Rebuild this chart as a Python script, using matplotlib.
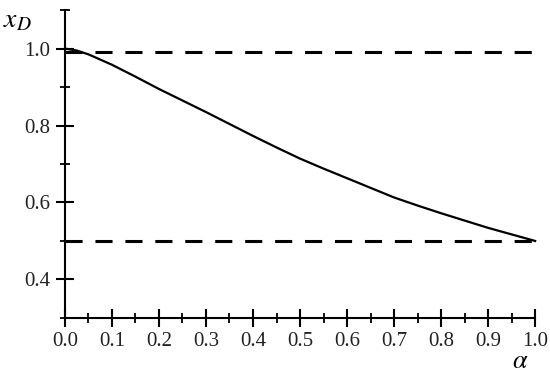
import numpy as np
import matplotlib.pyplot as plt
from matplotlib.ticker import MultipleLocator

# values
alpha = [0.0, 0.025, 0.05, 0.1, 0.15, 0.2, 0.25, 0.3, 0.35, 0.4, 0.45, 0.5,
         0.55, 0.6, 0.65, 0.7, 0.75, 0.8, 0.85, 0.9, 0.95, 1.0]
x_d = [1.0, 0.995, 0.985, 0.958, 0.927, 0.895, 0.865, 0.835, 0.804, 0.773, 0.743, 0.714,
       0.688, 0.663, 0.638, 0.613, 0.592, 0.572, 0.553, 0.534, 0.517, 0.5]
upper_level = 0.99
lower_level = 0.5
x_ticks = [0.0, 0.1, 0.2, 0.3, 0.4, 0.5, 0.6, 0.7, 0.8, 0.9, 1.0]
y_ticks = [0.4, 0.6, 0.8, 1.0]

plt.rcParams['mathtext.fontset'] = 'stix'
plt.rcParams['font.family'] = ['Liberation Serif', 'DejaVu Serif']

fig = plt.figure(figsize=(5.5, 3.74), dpi=100)
ax = fig.add_axes([0.118, 0.150, 0.855, 0.823])

dash = dict(color='black', lw=2.2, dashes=(5.6, 4.2), clip_on=False)
ax.plot([0, 1], [upper_level, upper_level], **dash)
ax.plot([0, 1], [lower_level, lower_level], **dash)
ax.plot(alpha, x_d, color='black', lw=1.6, clip_on=False)

ax.set_xlim(0, 1)
ax.set_ylim(0.3, 1.1)
ax.spines['top'].set_visible(False)
ax.spines['right'].set_visible(False)
for s in ['left', 'bottom']:
    ax.spines[s].set_linewidth(1.5)

ax.set_xticks(x_ticks)
ax.set_xticklabels(['%.1f' % v for v in x_ticks])
ax.xaxis.set_minor_locator(MultipleLocator(0.05))
ax.set_yticks(y_ticks)
ax.set_yticklabels(['%.1f' % v for v in y_ticks])
ax.yaxis.set_minor_locator(MultipleLocator(0.1))

ax.tick_params(which='major', direction='inout', length=13, width=1.5,
               labelsize=15, labelcolor='#222222')
ax.tick_params(axis='x', which='major', pad=4)
ax.tick_params(axis='y', which='major', pad=4)
ax.tick_params(which='minor', direction='inout', length=7, width=1.3)

fig.text(0.005, 0.945, r'$x_D$', fontsize=20, ha='left', va='center')
fig.text(0.945, 0.002, r'$\alpha$', fontsize=19, ha='center', va='bottom')

fig.savefig('out.png', dpi=100)
